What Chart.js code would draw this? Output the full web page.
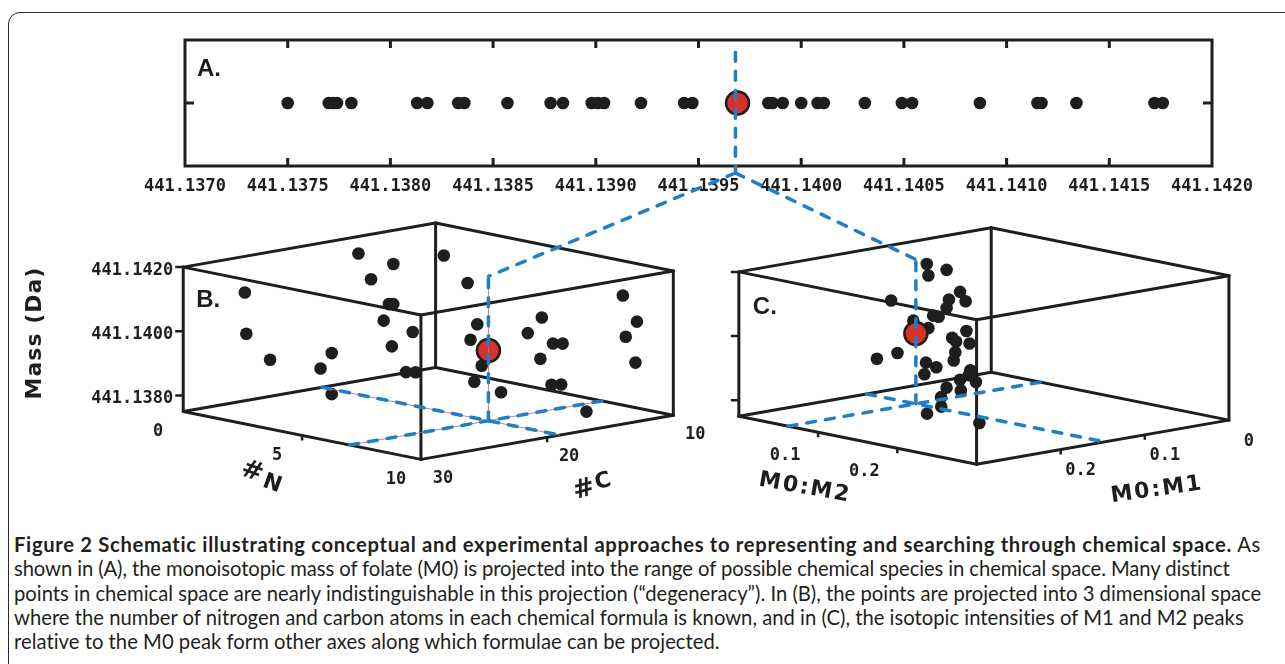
<!DOCTYPE html>
<html>
<head>
<meta charset="utf-8">
<script src="https://cdn.jsdelivr.net/npm/chart.js@4.4.1/dist/chart.umd.min.js"></script>
<style>
  body { margin: 0; background: #fff; width: 1285px; height: 664px; overflow: hidden; position: relative; }
  #border { position: absolute; left: 8px; top: 12px; width: 1320px; height: 720px; border: 1.5px solid #2a2a2a; border-radius: 12px; }
  canvas { position: absolute; left: 0; top: 0; }
  #overlay { pointer-events: none; }
  #caption { position: absolute; left: 14px; top: 532px; font-family: Lato, "Noto Sans", sans-serif; font-size: 17px; line-height: 24.3px; color: #231f20; white-space: nowrap; }
  #caption span { display: inline-block; }
</style>
</head>
<body>
<div id="border"></div>
<canvas id="chartA" width="1285" height="200"></canvas>
<div id="caption">
  <div><span><b>Figure 2 Schematic illustrating conceptual and experimental approaches to representing and searching through chemical space.</b> As</span></div>
  <div><span>shown in (A), the monoisotopic mass of folate (M0) is projected into the range of possible chemical species in chemical space. Many distinct</span></div>
  <div><span>points in chemical space are nearly indistinguishable in this projection (“degeneracy”). In (B), the points are projected into 3 dimensional space</span></div>
  <div><span>where the number of nitrogen and carbon atoms in each chemical formula is known, and in (C), the isotopic intensities of M1 and M2 peaks</span></div>
  <div><span>relative to the M0 peak form other axes along which formulae can be projected.</span></div>
</div>
<canvas id="overlay" width="1285" height="664"></canvas>
<script>
// ---- panel A: monoisotopic masses (Da) ----
const massTickValues = [441.1370, 441.1375, 441.1380, 441.1385, 441.1390, 441.1395, 441.1400, 441.1405, 441.1410, 441.1415, 441.1420];
const massA = [441.13750, 441.13770, 441.13772, 441.13774, 441.13781, 441.13813, 441.13818, 441.13833, 441.13836,
  441.13857, 441.13878, 441.13884, 441.13898, 441.13901, 441.13904, 441.13922, 441.13943, 441.13947,
  441.13984, 441.13986, 441.13991, 441.14000, 441.14008, 441.14011, 441.14031, 441.14049, 441.14054,
  441.14087, 441.14115, 441.14117, 441.14134, 441.14172, 441.14176];
const folateMass = 441.13969;

// ---- panel B: #N, #C, mass ----
const nB = [1, 3, 1, 1, 6, 3, 1, 7, 0, 4, 2, 1, 1, 3, 5, 2, 3, 4, 6, 2, 3, 8, 7, 5, 6, 6, 8, 6, 7, 9, 9, 10, 9, 8, 10];
const cB = [18, 19, 17, 27, 25, 19, 16, 25, 25, 21, 22, 25, 21, 18, 21, 22, 15, 15, 18, 11, 12, 22, 18, 11, 14, 12, 15, 13, 14, 17, 15, 14, 11, 10, 13];
const massB = [441.14175, 441.14179, 441.14088, 441.14115, 441.14140, 441.14054, 441.13952, 441.14068, 441.13958, 441.13951,
  441.13907, 441.13892, 441.13837, 441.13835, 441.13885, 441.13779, 441.14178, 441.14107, 441.14029, 441.13873,
  441.13814, 441.13907, 441.13832, 441.13987, 441.13974, 441.13928, 441.13978, 441.13887, 441.13828, 441.13879,
  441.13781, 441.14151, 441.14034, 441.13965, 441.13935];
const folateN = 7, folateC = 19;

// ---- panel C: M0:M2, M0:M1, mass ----
const m2C = [0.062, 0.087, 0.064, 0.104, 0.090, 0.111, 0.017, 0.087, 0.070, 0.077, 0.045, 0.064, 0.112, 0.094, 0.099, 0.116, 0.098,
  0.025, 0.015, 0.096, 0.061, 0.074, 0.059, 0.117, 0.104, 0.124, 0.087, 0.105, 0.080, 0.128, 0.126, 0.208, 0.115];
const m1C = [0.135, 0.135, 0.135, 0.135, 0.135, 0.135, 0.135, 0.135, 0.135, 0.135, 0.135, 0.135, 0.135, 0.135, 0.135, 0.135, 0.135,
  0.135, 0.150, 0.135, 0.135, 0.135, 0.135, 0.135, 0.135, 0.135, 0.135, 0.135, 0.135, 0.180, 0.195, 0.210, 0.135];
const massC = [441.14180, 441.14174, 441.14145, 441.14114, 441.14083, 441.14088, 441.14044, 441.14055, 441.14023, 441.14023,
  441.13995, 441.13981, 441.13996, 441.13966, 441.13957, 441.13959, 441.13923, 441.13884, 441.13868, 441.13896,
  441.13872, 441.13864, 441.13835, 441.13876, 441.13840, 441.13843, 441.13807, 441.13807, 441.13774, 441.13789,
  441.13773, 441.13791, 441.13860];
const folateM2 = 0.062, folateM1 = 0.148;

// ---- 3D axes ----
const massRange = [441.1375, 441.1420];
const nRange = [0, 10], cRange = [30, 10];
const m2Range = [0, 0.3], m1Range = [0.3, 0];
const massAxisTicks = [441.1380, 441.1400, 441.1420];
const nTicks = [0, 5, 10], cTicks = [30, 20, 10];
const m2Ticks = [0.1, 0.2], m1Ticks = [0.2, 0.1, 0];

const INK = '#1e1e1e', RED = '#d8302a', BLUE = '#1f7fc6';
const MONO = '"DejaVu Sans Mono", monospace';

// oblique projection of the two boxes (page units)
const AX1 = [243, 50], AX2 = [258, -46], AXH = 150.75;
const originB = { x: 173, y: 415 }, originC = { x: 741, y: 420 };
function proj(o, f1, f2, fh) {
  return { x: o.x + AX1[0] * f1 + AX2[0] * f2, y: o.y + AX1[1] * f1 + AX2[1] * f2 - AXH * fh };
}
const frac = (v, r) => (v - r[0]) / (r[1] - r[0]);
const ptB = (n, c, m) => proj(originB, frac(n, nRange), frac(c, cRange), frac(m, massRange));
const ptC = (r2, r1, m) => proj(originC, frac(r2, m2Range), frac(r1, m1Range), frac(m, massRange));

// ---------- panel A ----------
const frameA = {
  id: 'frameA',
  afterDraw(chart) {
    const { ctx, chartArea: a, scales: { x, y } } = chart;
    ctx.save();
    ctx.strokeStyle = INK;
    ctx.lineWidth = 3;
    ctx.strokeRect(a.left, a.top, a.right - a.left, a.bottom - a.top);
    ctx.beginPath();
    massTickValues.slice(1, -1).forEach(v => {
      const px = x.getPixelForValue(v);
      ctx.moveTo(px, a.top); ctx.lineTo(px, a.top + 8);
      ctx.moveTo(px, a.bottom); ctx.lineTo(px, a.bottom - 8);
    });
    const py = y.getPixelForValue(0);
    ctx.moveTo(a.left, py); ctx.lineTo(a.left + 9, py);
    ctx.moveTo(a.right, py); ctx.lineTo(a.right - 9, py);
    ctx.stroke();
    ctx.fillStyle = INK;
    ctx.font = 'bold 24px "Liberation Sans", Arial, sans-serif';
    ctx.textBaseline = 'middle';
    ctx.fillText('A.', a.left + 12, a.top + 29);
    ctx.restore();
  }
};

const chartA = new Chart(document.getElementById('chartA'), {
  type: 'scatter',
  data: {
    datasets: [
      { data: [{ x: folateMass, y: 0 }], pointRadius: 11.5, pointBackgroundColor: RED, pointBorderColor: INK, pointBorderWidth: 2.5 },
      { data: massA.map(m => ({ x: m, y: 0 })), pointRadius: 6.3, pointBackgroundColor: INK, pointBorderWidth: 0 }
    ]
  },
  options: {
    responsive: false,
    animation: false,
    devicePixelRatio: 1,
    events: [],
    layout: { padding: { left: 185, right: 73, top: 40, bottom: 4 } },
    plugins: { legend: { display: false }, tooltip: { enabled: false } },
    scales: {
      x: {
        type: 'linear', min: massTickValues[0], max: massTickValues[massTickValues.length - 1],
        afterBuildTicks: s => { s.ticks = massTickValues.map(v => ({ value: v })); },
        afterFit: s => { s.height = 30; },
        grid: { display: false, drawTicks: false },
        border: { display: false },
        ticks: { callback: v => v.toFixed(4), color: INK, padding: 10, maxRotation: 0, autoSkip: false,
                 font: { family: MONO, size: 17, weight: 'bold' } }
      },
      y: { display: false, min: -1, max: 1 }
    }
  },
  plugins: [frameA]
});

// ---------- panels B and C ----------
const datasets = [];
function addLine(pts, style) {
  datasets.push(Object.assign({ data: pts, showLine: true, pointRadius: 0, fill: false, clip: false, tension: 0 }, style));
}
const boxStyle = { borderColor: INK, borderWidth: 3, borderCapStyle: 'round', order: 2 };
const dashStyle = { borderColor: BLUE, borderWidth: 3.5, borderDash: [9, 10], borderCapStyle: 'round', order: 0 };
const pinkStyle = { borderColor: 'rgba(205,110,110,0.9)', borderWidth: 1, order: 1 };

function addBox(o) {
  const c = (a, b, h) => proj(o, a, b, h);
  [0, 1].forEach(a => [0, 1].forEach(b => addLine([c(a, b, 0), c(a, b, 1)], boxStyle)));
  [0, 1].forEach(a => [0, 1].forEach(h => addLine([c(a, 0, h), c(a, 1, h)], boxStyle)));
  [0, 1].forEach(b => [0, 1].forEach(h => addLine([c(0, b, h), c(1, b, h)], boxStyle)));
}
addBox(originB);
addBox(originC);

// projection guides through folate
const bGuides = [
  [ptB(folateN, folateC, massRange[0]), ptB(folateN, folateC, massRange[1])],
  [ptB(nRange[0], folateC, massRange[0]), ptB(nRange[1], folateC, massRange[0])],
  [ptB(folateN, cRange[0], massRange[0]), ptB(folateN, cRange[1], massRange[0])]
];
bGuides.forEach(g => { addLine(g, pinkStyle); addLine(g, dashStyle); });
const cGuides = [
  [ptC(folateM2, folateM1, massRange[0]), ptC(folateM2, folateM1, massRange[1])],
  [ptC(m2Range[0], folateM1, massRange[0]), ptC(m2Range[1], folateM1, massRange[0])],
  [ptC(folateM2, m1Range[0], massRange[0]), ptC(folateM2, m1Range[1], massRange[0])]
];
cGuides.forEach(g => addLine(g, dashStyle));

// connectors from panel A
const ax = chartA.scales.x.getPixelForValue(folateMass);
const aTop = chartA.chartArea.top, aBot = chartA.chartArea.bottom;
addLine([{ x: ax, y: aTop }, { x: ax, y: aBot }], dashStyle);
addLine([{ x: ax, y: aBot }, ptB(folateN, folateC, massRange[1])], dashStyle);
addLine([{ x: ax, y: aBot }, ptC(folateM2, folateM1, massRange[1])], dashStyle);

// points
const redStyle = { showLine: false, clip: false, pointRadius: 11.5, pointBackgroundColor: RED, pointBorderColor: INK, pointBorderWidth: 2.5, order: 3 };
const dotStyle = { showLine: false, clip: false, pointRadius: 6.3, pointBackgroundColor: INK, pointBorderWidth: 0, order: 4 };
datasets.push(Object.assign({ data: [ptB(folateN, folateC, folateMass), ptC(folateM2, folateM1, folateMass)] }, redStyle));
datasets.push(Object.assign({ data: nB.map((n, i) => ptB(n, cB[i], massB[i])) }, dotStyle));
datasets.push(Object.assign({ data: m2C.map((r, i) => ptC(r, m1C[i], massC[i])) }, dotStyle));

function rotText(ctx, txt, x, y, deg, font, spacing) {
  ctx.save();
  ctx.translate(x, y);
  ctx.rotate(deg * Math.PI / 180);
  ctx.font = font;
  ctx.letterSpacing = spacing || '0px';
  ctx.textAlign = 'center';
  ctx.textBaseline = 'middle';
  ctx.fillText(txt, 0, 0);
  ctx.restore();
}

const boxLabels = {
  id: 'boxLabels',
  afterDatasetsDraw(chart) {
    const { ctx, scales: { x, y } } = chart;
    const P = p => ({ x: x.getPixelForValue(p.x), y: y.getPixelForValue(p.y) });
    ctx.save();
    ctx.fillStyle = INK;
    ctx.strokeStyle = INK;
    ctx.lineWidth = 2.5;

    // mass ticks on left edges
    ctx.beginPath();
    massAxisTicks.forEach(m => {
      [ptB(nRange[0], cRange[0], m), ptC(m2Range[0], m1Range[0], m)].forEach(q => {
        const p = P(q); ctx.moveTo(p.x - 8, p.y); ctx.lineTo(p.x, p.y);
      });
    });
    // floor ticks
    nTicks.slice(1, -1).forEach(n => { const p = P(ptB(n, cRange[0], massRange[0])); ctx.moveTo(p.x, p.y); ctx.lineTo(p.x, p.y + 5); });
    cTicks.slice(1, -1).forEach(c => { const p = P(ptB(nRange[1], c, massRange[0])); ctx.moveTo(p.x, p.y); ctx.lineTo(p.x, p.y + 5); });
    m2Ticks.forEach(r => { const p = P(ptC(r, m1Range[0], massRange[0])); ctx.moveTo(p.x, p.y); ctx.lineTo(p.x, p.y + 5); });
    m1Ticks.slice(0, -1).forEach(r => { const p = P(ptC(m2Range[1], r, massRange[0])); ctx.moveTo(p.x, p.y); ctx.lineTo(p.x, p.y + 5); });
    ctx.stroke();

    ctx.font = 'bold 17px ' + MONO;
    ctx.textBaseline = 'middle';
    ctx.textAlign = 'right';
    massAxisTicks.forEach(m => { const p = P(ptB(nRange[0], cRange[0], m)); ctx.fillText(m.toFixed(4), p.x - 10, p.y + 3); });
    ctx.textAlign = 'center';
    nTicks.forEach(n => { const p = P(ptB(n, cRange[0], massRange[0])); ctx.fillText(String(n), p.x - 25, p.y + 20); });
    cTicks.forEach(c => { const p = P(ptB(nRange[1], c, massRange[0])); ctx.fillText(String(c), p.x + 22, p.y + 19); });
    m2Ticks.forEach(r => { const p = P(ptC(r, m1Range[0], massRange[0])); ctx.fillText(r.toFixed(1), p.x - 33, p.y + 23); });
    m1Ticks.forEach(r => { const p = P(ptC(m2Range[1], r, massRange[0])); ctx.fillText(r === 0 ? '0' : r.toFixed(1), p.x + 20, p.y + 21); });

    // panel letters
    ctx.textAlign = 'left';
    ctx.font = 'bold 24px "Liberation Sans", Arial, sans-serif';
    const pb = P(ptB(nRange[0], cRange[0], massRange[1]));
    const pc = P(ptC(m2Range[0], m1Range[0], massRange[1]));
    ctx.fillText('B.', pb.x + 13, pb.y + 33);
    ctx.fillText('C.', pc.x + 14, pc.y + 35);

    // axis titles
    const title = 'bold 22px "DejaVu Sans", sans-serif';
    rotText(ctx, 'Mass (Da)', 35, 333, -90, title, '1px');
    rotText(ctx, '#', 252, 472, 20, 'bold 26px "DejaVu Sans", sans-serif');
    rotText(ctx, 'N', 272, 484, 20, title);
    rotText(ctx, '#', 584, 490, -15, 'bold 26px "DejaVu Sans", sans-serif');
    rotText(ctx, 'C', 603, 482, -15, title);
    rotText(ctx, 'M0:M2', 805, 488, 10, title, '2px');
    rotText(ctx, 'M0:M1', 1157, 490, -8, title, '2px');
    ctx.restore();
  }
};

new Chart(document.getElementById('overlay'), {
  type: 'scatter',
  data: { datasets: datasets },
  options: {
    responsive: false,
    animation: false,
    devicePixelRatio: 1,
    events: [],
    layout: { padding: 0 },
    plugins: { legend: { display: false }, tooltip: { enabled: false } },
    scales: {
      x: { type: 'linear', display: false, min: 0, max: 1285 },
      y: { type: 'linear', display: false, min: 0, max: 664, reverse: true }
    }
  },
  plugins: [boxLabels]
});

// fit caption lines to their measured right ends
const captionEnds = [1262, 1230, 1262, 1244, 720];
const caption = document.getElementById('caption');
const capLines = Array.from(caption.querySelectorAll('span'));
const capLeft = 14;
const w3 = capLines[2].getBoundingClientRect().width;
caption.style.fontSize = (17 * (captionEnds[2] - capLeft) / w3).toFixed(2) + 'px';
capLines.forEach((el, i) => {
  const w = el.getBoundingClientRect().width;
  const n = el.textContent.length;
  el.style.letterSpacing = ((captionEnds[i] - capLeft - w) / n).toFixed(3) + 'px';
});
</script>
</body>
</html>
